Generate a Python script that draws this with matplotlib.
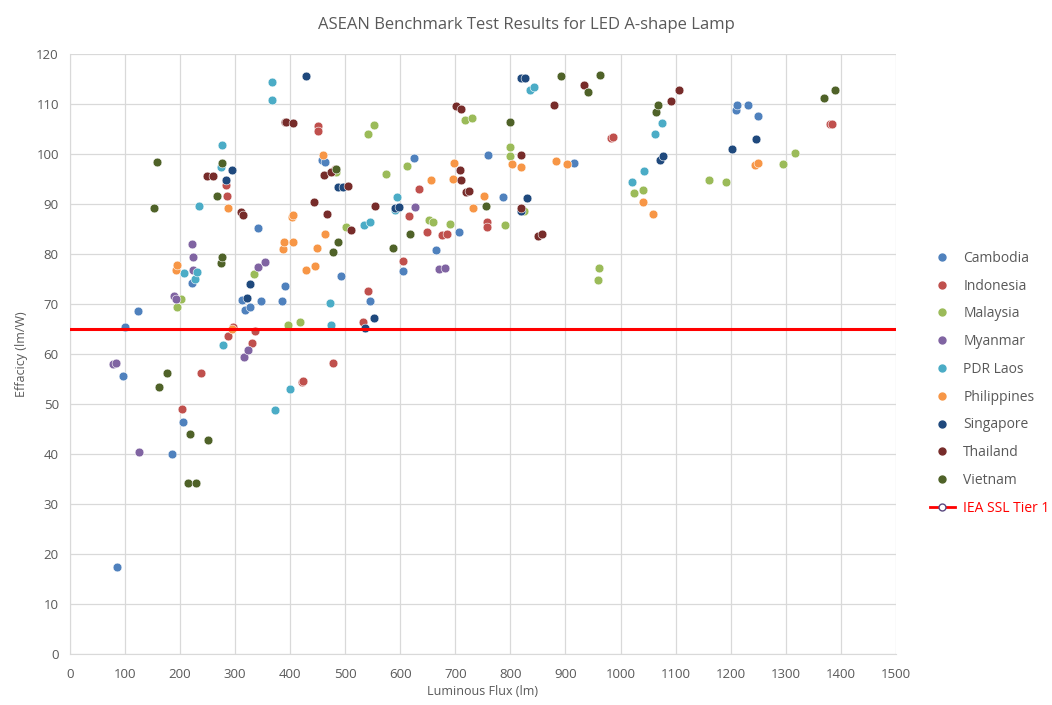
import matplotlib
matplotlib.use("Agg")
import matplotlib.pyplot as plt
from matplotlib.lines import Line2D

# ── Data (luminous flux lm, efficacy lm/W) ───────────────────────────────────
cambodia_x = [85, 96, 100, 123, 185, 205, 221, 312, 318, 327, 341, 347, 385, 390,
              457, 463, 492, 545, 605, 625, 665, 706, 759, 786, 820, 915,
              1209, 1211, 1231, 1249]
cambodia_y = [17.5, 55.6, 65.4, 68.6, 40, 46.4, 74.2, 70.8, 68.8, 69.4, 85.2, 70.6, 70.6, 73.6,
              98.8, 98.4, 75.6, 70.6, 76.6, 99.2, 80.8, 84.4, 99.8, 91.4, 88.6, 98.2,
              108.8, 109.8, 109.8, 107.6]

indonesia_x = [203, 238, 283, 285, 287, 296, 331, 337, 421, 424, 451, 451, 478, 481,
               532, 541, 605, 616, 634, 648, 675, 684, 757, 757, 982, 986, 1380, 1384]
indonesia_y = [49.0, 56.2, 93.8, 91.6, 63.6, 65.4, 62.2, 64.6, 54.4, 54.6, 105.6, 104.6, 58.2, 97.0,
               66.4, 72.6, 78.6, 87.6, 93.0, 84.4, 83.8, 84.0, 86.4, 85.4, 103.2, 103.4, 106, 106]

malaysia_x = [194, 202, 334, 396, 418, 483, 501, 541, 552, 574, 612, 652, 659, 690,
              717, 730, 791, 799, 800, 825, 959, 961, 1024, 1040, 1160, 1191, 1296, 1317]
malaysia_y = [69.4, 71.0, 76.0, 65.8, 66.4, 96.4, 85.4, 104.0, 105.8, 96.0, 97.6, 86.8, 86.4, 86.0,
              106.8, 107.2, 85.8, 99.6, 101.4, 88.6, 74.8, 77.2, 92.2, 92.8, 94.8, 94.4, 98.0, 100.2]

myanmar_x = [78, 84, 126, 189, 193, 221, 223, 223, 316, 323, 341, 354, 626, 670, 681]
myanmar_y = [58.0, 58.2, 40.4, 71.6, 71.0, 82.0, 79.4, 76.8, 59.4, 60.8, 77.4, 78.4, 89.4, 77.0, 77.2]

laos_x = [207, 227, 231, 234, 274, 276, 278, 367, 367, 372, 399, 472, 474, 534, 545,
          590, 594, 835, 843, 1020, 1042, 1062, 1075]
laos_y = [76.2, 75.0, 76.4, 89.6, 97.4, 101.8, 61.8, 114.4, 110.8, 48.8, 53.0, 70.2, 65.8, 85.8, 86.4,
          88.8, 91.4, 112.8, 113.4, 94.4, 96.6, 104.0, 106.2]

philippines_x = [193, 194, 287, 294, 387, 389, 403, 405, 405, 428, 445, 449, 459, 463,
                 655, 695, 697, 732, 752, 803, 819, 882, 903, 1040, 1059, 1244, 1249]
philippines_y = [76.8, 77.8, 89.2, 65.0, 81.0, 82.4, 87.4, 87.8, 82.4, 76.8, 77.6, 81.2, 99.8, 84.0,
                 94.8, 95.0, 98.2, 89.2, 91.6, 98.0, 97.4, 98.6, 98.0, 90.4, 88.0, 97.8, 98.2]

singapore_x = [283, 294, 322, 327, 429, 487, 496, 536, 552, 590, 597, 819, 820, 826,
               831, 1071, 1078, 1203, 1247]
singapore_y = [94.8, 96.8, 71.2, 74.0, 115.6, 93.4, 93.4, 65.2, 67.2, 89.2, 89.4, 115.2, 88.6, 115.2,
               91.2, 98.8, 99.6, 101.0, 103.0]

thailand_x = [249, 260, 310, 315, 390, 393, 405, 444, 461, 467, 474, 505, 510, 554,
              702, 708, 710, 710, 720, 724, 819, 820, 850, 857, 879, 933, 1092, 1106]
thailand_y = [95.6, 95.6, 88.4, 87.8, 106.4, 106.4, 106.2, 90.4, 95.8, 88.0, 96.4, 93.6, 84.8, 89.6,
              109.6, 96.8, 109.0, 94.8, 92.4, 92.6, 89.2, 99.8, 83.6, 84.0, 109.8, 113.8, 110.6, 112.8]

vietnam_x = [153, 158, 162, 176, 214, 218, 229, 250, 267, 274, 276, 276, 478, 483, 487,
             587, 617, 755, 799, 892, 941, 962, 1064, 1068, 1369, 1389]
vietnam_y = [89.2, 98.4, 53.4, 56.2, 34.2, 44.0, 34.2, 42.8, 91.6, 78.2, 79.4, 98.2, 80.4, 97.0, 82.4,
             81.2, 84.0, 89.6, 106.4, 115.6, 112.4, 115.8, 108.4, 109.8, 111.2, 112.8]

countries = ["Cambodia", "Indonesia", "Malaysia", "Myanmar", "PDR Laos",
             "Philippines", "Singapore", "Thailand", "Vietnam"]
series_x = [cambodia_x, indonesia_x, malaysia_x, myanmar_x, laos_x,
            philippines_x, singapore_x, thailand_x, vietnam_x]
series_y = [cambodia_y, indonesia_y, malaysia_y, myanmar_y, laos_y,
            philippines_y, singapore_y, thailand_y, vietnam_y]
colors = ["#4F81BD", "#C0504D", "#9BBB59", "#8064A2", "#4BACC6",
          "#F79646", "#1F497D", "#772C2A", "#4F6228"]

tier1_x = [0, 1500]
tier1_y = [65, 65]

# ── Plot ─────────────────────────────────────────────────────────────────────
plt.rcParams["font.family"] = ["Open Sans", "DejaVu Sans"]
fig = plt.figure(figsize=(10.52, 7.05), dpi=100)
ax = fig.add_axes([0.0665, 0.0723, 0.785, 0.851])

for name, xs, ys, c in zip(countries, series_x, series_y, colors):
    ax.scatter(xs, ys, s=40, color=c, edgecolors="white", linewidths=0.4,
               label=name, zorder=3)

ax.plot(tier1_x, tier1_y, color="#FF0000", linewidth=2.2, zorder=4)

ax.set_xlim(0, 1500)
ax.set_ylim(0, 120)
ax.set_xticks(range(0, 1501, 100))
ax.set_yticks(range(0, 121, 10))
ax.grid(color="#D9D9D9", linewidth=0.9, zorder=0)
ax.set_axisbelow(True)
for side in ["top", "right"]:
    ax.spines[side].set_visible(False)
for side in ["left", "bottom"]:
    ax.spines[side].set_color("#D9D9D9")
ax.tick_params(axis="x", length=0, labelsize=9.5, colors="#595959", pad=10)
ax.tick_params(axis="y", length=0, labelsize=9.5, colors="#595959", pad=8)

fig.text(0.5, 0.965, "ASEAN Benchmark Test Results for LED A-shape Lamp",
         ha="center", va="center", fontsize=12, color="#595959")
ax.set_xlabel("Luminous Flux (lm)", fontsize=9, color="#595959", labelpad=3)
ax.set_ylabel("Effacicy (lm/W)", fontsize=9, color="#595959", labelpad=6)

handles = [Line2D([], [], marker="o", linestyle="", color=c, markersize=5)
           for c in colors]
handles.append(Line2D([], [], color="#FF0000", linewidth=2, marker="o",
                      markersize=5, markerfacecolor="white",
                      markeredgecolor="#5B4A80"))
labels = countries + ["IEA SSL Tier 1"]
leg = fig.legend(handles, labels, loc="upper left", bbox_to_anchor=(0.872, 0.662),
                 frameon=False, fontsize=10, labelspacing=0.92,
                 handlelength=1.8, handletextpad=0.6)
for t in leg.get_texts():
    t.set_color("#595959")
leg.get_texts()[-1].set_color("#FF0000")

fig.savefig("out.png", dpi=100)
